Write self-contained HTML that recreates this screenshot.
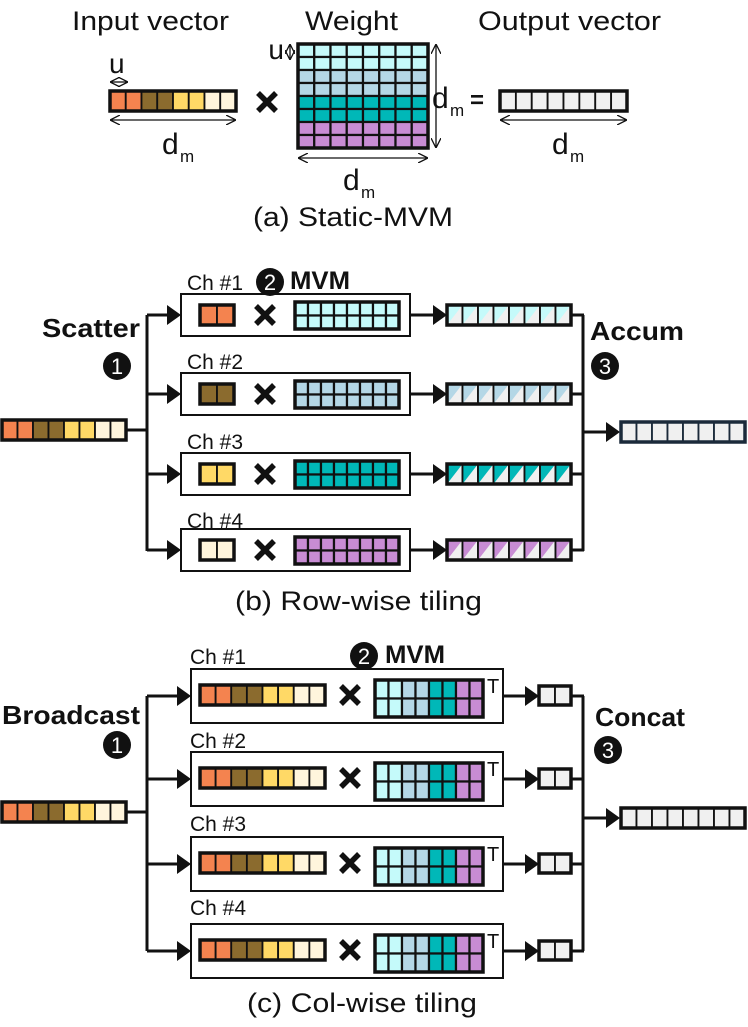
<!DOCTYPE html>
<html><head><meta charset="utf-8"><style>
html,body{margin:0;padding:0;background:#fff;width:748px;height:1027px;overflow:hidden}
svg{display:block}
text{font-family:"Liberation Sans",Arial,sans-serif;fill:#111}
.b{font-weight:bold}
</style></head><body>
<svg id="s" width="748" height="1027" viewBox="0 0 748 1027" xmlns="http://www.w3.org/2000/svg">
<defs>
<marker id="oa" viewBox="0 0 10 10" refX="9" refY="5" markerWidth="10" markerHeight="10" markerUnits="userSpaceOnUse" orient="auto-start-reverse"><path d="M0,0 L10,5 L0,10" fill="none" stroke="#111" stroke-width="1.3"/></marker>
</defs>
<g id="g"></g>
<!-- texts (a) -->
<text x="72" y="30" font-size="27" textLength="157" lengthAdjust="spacingAndGlyphs">Input vector</text>
<text x="305" y="30" font-size="27" textLength="93" lengthAdjust="spacingAndGlyphs">Weight</text>
<text x="478" y="30" font-size="27" textLength="183" lengthAdjust="spacingAndGlyphs">Output vector</text>
<text x="109" y="73" font-size="28">u</text>
<text x="284" y="59" font-size="28" text-anchor="end">u</text>
<text x="162" y="154" font-size="30">d</text><text x="180" y="162" font-size="17">m</text>
<text x="343" y="190" font-size="30">d</text><text x="361" y="198" font-size="17">m</text>
<text x="432" y="108" font-size="30">d</text><text x="450" y="116" font-size="17">m</text>
<text x="470" y="108" font-size="24" class="b">=</text>
<text x="552" y="154" font-size="30">d</text><text x="570" y="162" font-size="17">m</text>
<text x="253" y="226" font-size="27" textLength="200" lengthAdjust="spacingAndGlyphs">(a) Static-MVM</text>
<!-- (b) -->
<text x="187" y="290" font-size="21">Ch #1</text>
<text x="187" y="369" font-size="21">Ch #2</text>
<text x="187" y="449" font-size="21">Ch #3</text>
<text x="187" y="528" font-size="21">Ch #4</text>
<text x="42" y="337" font-size="26" class="b" textLength="98" lengthAdjust="spacingAndGlyphs">Scatter</text>
<text x="590" y="340" font-size="26" class="b" textLength="94" lengthAdjust="spacingAndGlyphs">Accum</text>
<text x="290" y="289" font-size="25" class="b" textLength="60" lengthAdjust="spacingAndGlyphs">MVM</text>
<text x="235" y="610" font-size="27" textLength="247" lengthAdjust="spacingAndGlyphs">(b) Row-wise tiling</text>
<!-- (c) -->
<text x="190" y="664" font-size="21">Ch #1</text>
<text x="190" y="748" font-size="21">Ch #2</text>
<text x="190" y="831" font-size="21">Ch #3</text>
<text x="190" y="915" font-size="21">Ch #4</text>
<text x="2" y="724" font-size="26" class="b" textLength="138" lengthAdjust="spacingAndGlyphs">Broadcast</text>
<text x="595" y="726" font-size="26" class="b" textLength="90" lengthAdjust="spacingAndGlyphs">Concat</text>
<text x="385" y="663" font-size="25" class="b" textLength="60" lengthAdjust="spacingAndGlyphs">MVM</text>
<text x="247" y="1012" font-size="27" textLength="230" lengthAdjust="spacingAndGlyphs">(c) Col-wise tiling</text>
</svg>
<script>
var g=document.getElementById('g'),NS='http://www.w3.org/2000/svg';
function el(t,a){var e=document.createElementNS(NS,t);for(var k in a)e.setAttribute(k,a[k]);g.appendChild(e);return e;}
function rect(x,y,w,h,f,sw,st){return el('rect',{x:x,y:y,width:w,height:h,fill:f,stroke:st||'#111','stroke-width':sw});}
var IN=['#F4834F','#F4834F','#8B6B2E','#8B6B2E','#FFD966','#FFD966','#FFF5DC','#FFF5DC'];
var WC=['#C5FAFA','#B4D7E6','#00B8B8','#C88CD4'];
function vec(x,y,w,h,cols,bord){var n=cols.length,cw=w/n;
 for(var i=0;i<n;i++)rect(x+i*cw,y,cw,h,cols[i],1.8,bord);rect(x,y,w,h,'none',3.5,bord);}
function hatch(x,y,w,h,c){var n=8,cw=w/n;for(var i=0;i<n;i++){rect(x+i*cw,y,cw,h,'#F0F0F0',0);
 el('polygon',{points:(x+i*cw)+','+y+' '+(x+i*cw+cw)+','+y+' '+(x+i*cw)+','+(y+h),fill:c});
 rect(x+i*cw,y,cw,h,'none',1.8);}rect(x,y,w,h,'none',3.5);}
function grid(x,y,w,h,rowsC,nc){var nr=rowsC.length;var cw=w/nc,rh=h/nr;
 for(var r=0;r<nr;r++)for(var c=0;c<nc;c++){var col=Array.isArray(rowsC[r])?rowsC[r][c]:rowsC[r];rect(x+c*cw,y+r*rh,cw,rh,col,2.2);}
 rect(x,y,w,h,'none',3.5);}
function line(x1,y1,x2,y2,w){el('line',{x1:x1,y1:y1,x2:x2,y2:y2,stroke:'#111','stroke-width':w||3});}
function arr(x1,y,x2){line(x1,y,x2-12,y,3);el('polygon',{points:(x2-14)+','+(y-10)+' '+x2+','+y+' '+(x2-14)+','+(y+10),fill:'#111'});}
function thin(x1,y1,x2,y2){el('line',{x1:x1,y1:y1,x2:x2,y2:y2,stroke:'#111','stroke-width':1.3,'marker-end':'url(#oa)','marker-start':'url(#oa)'});}
function times(cx,cy,s){el('path',{d:'M'+(cx-s)+','+(cy-s)+'L'+(cx+s)+','+(cy+s)+'M'+(cx+s)+','+(cy-s)+'L'+(cx-s)+','+(cy+s),stroke:'#111','stroke-width':5.5});}
function circ(cx,cy,t){el('circle',{cx:cx,cy:cy,r:14,fill:'#111'});var e=el('text',{x:cx,y:cy+8,'font-size':22,'text-anchor':'middle',fill:'#fff'});e.style.fill='#fff';e.textContent=t;}
var GR=['#F0F0F0','#F0F0F0','#F0F0F0','#F0F0F0','#F0F0F0','#F0F0F0','#F0F0F0','#F0F0F0'];
// (a)
vec(110,91,126,20,IN);
var wr=[];WC.forEach(function(c){wr.push(c,c)});grid(298,44,130,104,wr,8);
times(267,102,9);
vec(500,91,127,20,GR);
thin(111,82,127,82);thin(111,120,235,120);thin(290,45,290,59);thin(436,45,436,147);thin(299,158,427,158);thin(501,120,626,120);
// (b)
var by=[294,373,453,529];
for(var i=0;i<4;i++){var y=by[i];rect(181,y,229,42,'#fff',2);
 vec(200,y+11,34,20,[IN[2*i],IN[2*i]]);times(265,y+21,9);
 grid(295,y+8,104,27,[WC[i],WC[i]],8);arr(410,y+21,447);hatch(447,y+11,124,20,WC[i]);
 line(571,y+21,584,y+21,3);arr(147,y+21,181);}
line(147,315,147,551,3);line(583,315,583,551,3);
vec(2,420,124,20,IN);line(126,430,148,430,3);arr(583,432,620);
vec(621,422,124,20,GR,'#1b2a3a');
circ(117,366,'1');circ(270,282,'2');circ(605,366,'3');
// (c)
var cy=[669,752,837,924];
var wc=[WC[0],WC[0],WC[1],WC[1],WC[2],WC[2],WC[3],WC[3]];
for(var i=0;i<4;i++){var y=cy[i];rect(191,y,312,54,'#fff',2);
 vec(200,y+16,125,20,IN);times(350,y+26,9);grid(375,y+11,108,37,[wc,wc],8);
 var t=el('text',{x:487,y:y+24,'font-size':20});t.textContent='T';
 arr(503,y+27,539);vec(539,y+17,32,19,['#F0F0F0','#F0F0F0']);line(571,y+27,584,y+27,3);arr(147,y+27,191);}
line(147,696,147,951,3);line(583,696,583,951,3);
vec(2,802,124,20,IN);line(126,812,148,812,3);arr(583,818,620);
vec(621,808,124,20,GR);
circ(117,745,'1');circ(364,656,'2');circ(608,750,'3');
</script>
</body></html>
